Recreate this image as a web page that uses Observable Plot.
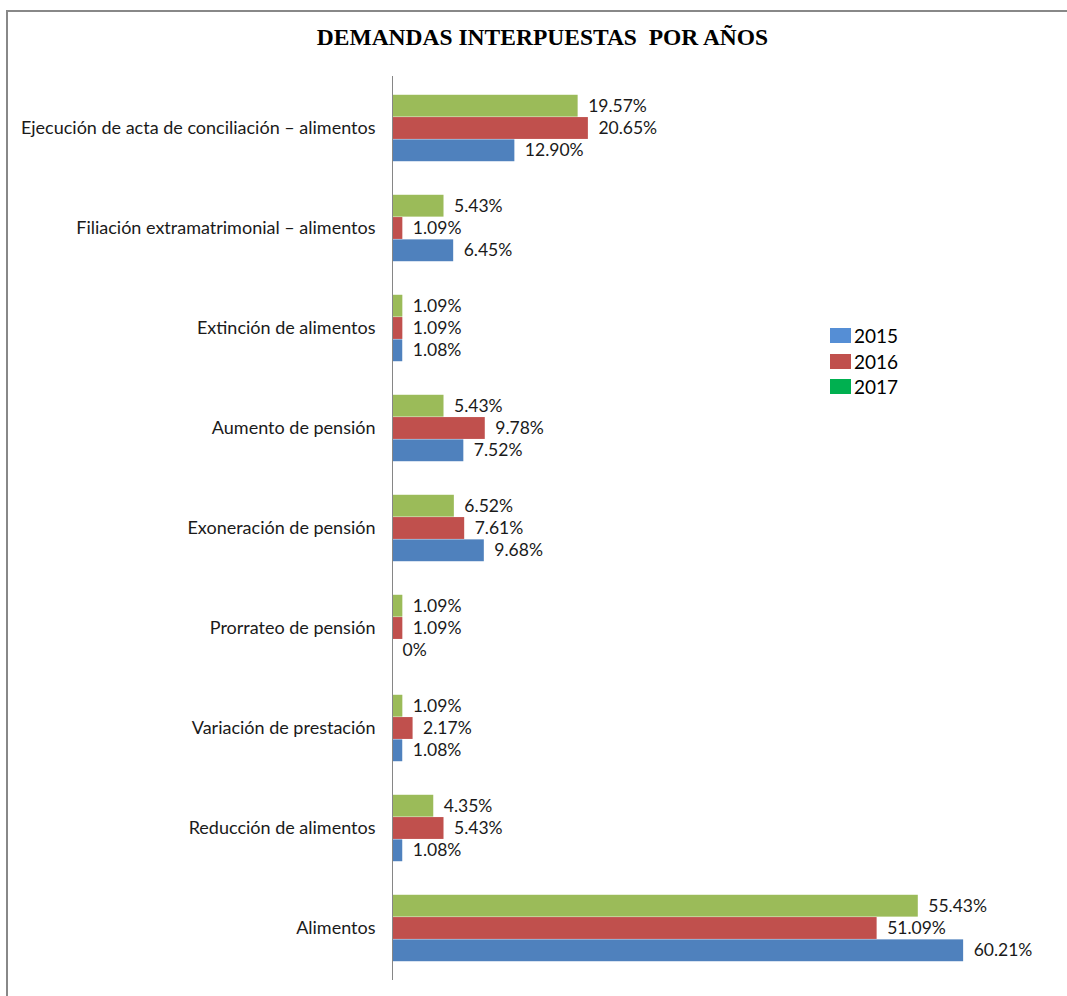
<!DOCTYPE html>
<html>
<head>
<meta charset="utf-8">
<script src="https://cdn.jsdelivr.net/npm/d3@7"></script>
<script src="https://cdn.jsdelivr.net/npm/@observablehq/plot@0.6"></script>
<style>
  html, body { margin: 0; padding: 0; background: #fff; }
  #wrap { position: relative; width: 1067px; height: 996px; overflow: hidden; background: #fff; font-family: Lato, "Open Sans", sans-serif; }
  #frame { position: absolute; left: 6px; top: 10px; width: 1200px; height: 1200px; border: 2px solid #888; box-sizing: border-box; }
  #title { position: absolute; left: 9px; top: 24px; width: 1067px; text-align: center; font-family: "Liberation Serif", "Times New Roman", serif; font-weight: bold; font-size: 23.5px; color: #000; white-space: pre; }
  #chart { position: absolute; left: 0; top: 0; }
  #legend { position: absolute; left: 830px; top: 323px; font-family: Lato, sans-serif; font-size: 19px; color: #000; }
  .li { display: flex; align-items: center; height: 25.5px; }
  .sw { width: 21px; height: 15px; margin-right: 3px; }
</style>
</head>
<body>
<div id="wrap">
  <div id="frame"></div>
  <div id="chart"></div>
  <div id="title">DEMANDAS INTERPUESTAS  POR AÑOS</div>
  <div id="legend"></div>
</div>
<script>
const categories = [
  "Ejecución de acta de conciliación – alimentos",
  "Filiación extramatrimonial – alimentos",
  "Extinción de alimentos",
  "Aumento de pensión",
  "Exoneración de pensión",
  "Prorrateo de pensión",
  "Variación de prestación",
  "Reducción de alimentos",
  "Alimentos"
];
const years = ["2015", "2016", "2017"];
const values2015 = [12.90, 6.45, 1.08, 7.52, 9.68, 0, 1.08, 1.08, 60.21];
const values2016 = [20.65, 1.09, 1.09, 9.78, 7.61, 1.09, 2.17, 5.43, 51.09];
const values2017 = [19.57, 5.43, 1.09, 5.43, 6.52, 1.09, 1.09, 4.35, 55.43];
const barColors = { "2015": "#4F81BD", "2016": "#C0504D", "2017": "#9BBB59" };
const legendColors = { "2015": "#558ED5", "2016": "#C0504D", "2017": "#00B050" };

const fmt = v => v === 0 ? "0%" : v.toFixed(2) + "%";
const series = [
  { year: "2017", vals: values2017, dy: -22.3 },
  { year: "2016", vals: values2016, dy: 0 },
  { year: "2015", vals: values2015, dy: 22.3 }
];

const height = 996, marginTop = 76, marginBottom = 16;
const band = (height - marginTop - marginBottom) / categories.length;
const inset = (band - 22.3) / 2;

const marks = [];
for (const s of series) {
  const data = categories.map((c, i) => ({ cat: c, v: s.vals[i], year: s.year }));
  marks.push(Plot.barX(data, {
    x: "v", y: "cat", fill: barColors[s.year],
    insetTop: inset + s.dy, insetBottom: inset - s.dy
  }));
  marks.push(Plot.text(data, {
    x: "v", y: "cat", text: d => fmt(d.v), dx: 10, dy: s.dy,
    textAnchor: "start", fill: "#1a1a1a", fontSize: 17.5
  }));
}
marks.push(Plot.ruleX([0], { stroke: "#868686", strokeWidth: 1 }));
marks.push(Plot.axisY({ tickSize: 0, tickPadding: 17, fontSize: 18, label: null, fill: "#1a1a1a" }));

const chart = Plot.plot({
  width: 1067,
  height,
  marginLeft: 392,
  marginRight: 11,
  marginTop,
  marginBottom,
  style: { fontFamily: "Lato, 'Open Sans', sans-serif", background: "transparent", overflow: "visible" },
  x: { domain: [0, 70], axis: null },
  y: { domain: categories, padding: 0, label: null },
  marks
});
document.getElementById("chart").appendChild(chart);

const legend = document.getElementById("legend");
for (const y of years) {
  const row = document.createElement("div");
  row.className = "li";
  row.innerHTML = `<div class="sw" style="background:${legendColors[y]}"></div><span>${y}</span>`;
  legend.appendChild(row);
}
</script>
</body>
</html>
